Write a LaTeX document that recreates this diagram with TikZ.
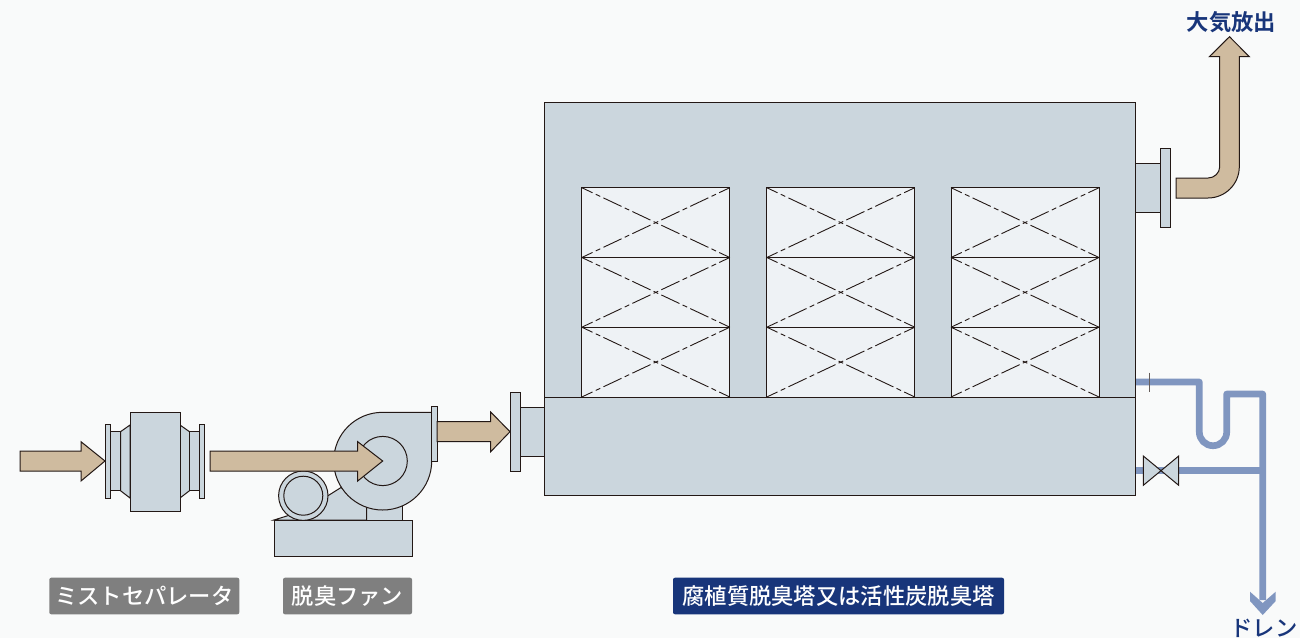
\documentclass[tikz,border=0pt]{standalone}
\usepackage{fontspec}
\setmainfont{Noto Sans CJK JP Medium}[BoldFont={Noto Sans CJK JP Bold}]
\definecolor{bgc}{HTML}{F9FAFA}
\definecolor{steel}{HTML}{CBD6DD}
\definecolor{bedc}{HTML}{EEF2F5}
\definecolor{tan}{HTML}{CFBB9F}
\definecolor{ink}{HTML}{231815}
\definecolor{pipec}{HTML}{8096C0}
\definecolor{navy}{HTML}{18357A}
\definecolor{greyl}{HTML}{7F7F7F}
\tikzset{
  part/.style={draw=ink,fill=steel,line width=1pt,line join=miter},
  flow/.style={draw=ink,fill=tan,line width=1pt,line join=miter},
  bedbox/.style={draw=ink,fill=bedc,line width=1pt},
  beddash/.style={draw=ink,line width=0.9pt,dash pattern=on 20pt off 3.5pt on 5pt off 3.5pt,dash phase=8.1pt},
  pipe/.style={draw=pipec,line width=6.7pt,line join=round},
  tag/.style={rounded corners=2pt,text=white,inner sep=0pt,minimum height=36.6pt,font=\fontsize{22.3}{26}\selectfont},
  outlabel/.style={text=navy,inner sep=0pt,font=\fontsize{22.3}{26}\selectfont}
}
\newcommand{\bedunit}[4]{%
  \draw[bedbox] (#1,#3) rectangle (#2,#4);
  \draw[beddash] (#1,#3) -- (#2,#4);
  \draw[beddash] (#1,#4) -- (#2,#3);
}
\newcommand{\bedstack}[2]{%
  \bedunit{#1}{#2}{187.7}{257.5}
  \bedunit{#1}{#2}{257.5}{327.2}
  \bedunit{#1}{#2}{327.2}{397}
}
\begin{document}
\begin{tikzpicture}[x=1pt,y=-1pt]
\useasboundingbox (0,0) rectangle (1300,638);
\fill[bgc] (0,0) rectangle (1300,638);

% pipes
\draw[pipe] (1136,382) -- (1199.3,382) -- (1199.3,432)
  .. controls (1199.3,439.6) and (1205.4,445.7) .. (1213,445.7)
  .. controls (1220.6,445.7) and (1226.7,439.6) .. (1226.7,432)
  -- (1226.7,394) -- (1262.7,394) -- (1262.7,600);
\draw[pipe] (1136,470.7) -- (1262.7,470.7);
\fill[pipec] (1250,591.7) -- (1262.7,603) -- (1275.7,591.7) -- (1275.7,601) -- (1262.7,615) -- (1250,601) -- cycle;
\draw[ink!70!white,line width=1pt] (1149,372.7) -- (1149,391.7);
\draw[part] (1143.3,456) -- (1178.7,485.3) -- (1178.7,456) -- (1143.3,485.3) -- cycle;

% tower
\draw[part] (544.9,102) rectangle (1135.9,495.5);
\draw[part] (544.9,397) -- (1135.9,397);
\bedstack{581.8}{729.8}
\bedstack{766.8}{914.8}
\bedstack{951}{1099}

% inlet and outlet nozzles
\draw[part] (520.7,407.3) rectangle (544.9,456.7);
\draw[part] (510.3,392.3) rectangle (520.7,471.3);
\draw[part] (1135.9,163.3) rectangle (1160.3,212.3);
\draw[part] (1160.3,148.3) rectangle (1170.5,227.7);

% mist separator
\draw[part] (105.3,424) rectangle (110.7,498.3);
\draw[part] (110.7,431.7) rectangle (120.5,490.7);
\draw[part] (120.5,431.7) -- (130,425) -- (130,498) -- (120.5,490.7) -- cycle;
\draw[part] (189.5,431.7) -- (180,425) -- (180,498) -- (189.5,490.7) -- cycle;
\draw[part] (189.5,431.7) rectangle (199,490.7);
\draw[part] (199,424) rectangle (204.3,498.3);
\draw[part] (130,412) rectangle (180,511);

% fan
\draw[part] (366.7,505) rectangle (402.5,520);
\draw[part] (274,520) -- (290,515) -- (328,495.7) -- (341,487.5) -- (366.7,505) -- (366.7,520) -- cycle;
\draw[part] (303.3,495.7) circle[radius=24.7pt];
\draw[part] (303.3,495.7) circle[radius=19.5pt];
\draw[part] (274,520) rectangle (412.3,556);
\draw[part] (431.7,412.3) -- (382.7,412.3)
  .. controls (355.6,412.3) and (333.7,434) .. (333.7,461)
  .. controls (333.7,488) and (355.6,510) .. (382.7,510)
  .. controls (409.8,510) and (431.7,488) .. (431.7,461) -- cycle;
\draw[part] (382.7,461) circle[radius=24.6pt];
\draw[part] (431.7,406.7) rectangle (437,461.3);

% flow arrows
\draw[flow] (20,451) -- (81,451) -- (81,441.7) -- (105,461) -- (81,481) -- (81,471) -- (20,471) -- cycle;
\draw[flow] (210,451) -- (357.7,451) -- (357.7,441.7) -- (382.7,461) -- (357.7,481) -- (357.7,471) -- (210,471) -- cycle;
\draw[flow] (437,421.7) -- (490.7,421.7) -- (490.7,412) -- (510,431.7) -- (490.7,451.7) -- (490.7,441.7) -- (437,441.7) -- cycle;
\draw[flow] (1176,178) -- (1208,178)
  .. controls (1214.4,178) and (1219.7,172.9) .. (1219.7,166.7)
  -- (1219.7,56.7) -- (1209.3,56.7) -- (1229.5,36.7) -- (1249.3,56.7) -- (1239.3,56.7) -- (1239.3,166.7)
  .. controls (1239.3,184) and (1225.3,198) .. (1208,198)
  -- (1176,198) -- cycle;

% labels
\node[tag,fill=greyl,minimum width=190pt] (sep) at (144.3,596) {ミストセパレータ};
\node[tag,fill=greyl,minimum width=129pt] (fan) at (347.5,596) {脱臭ファン};
\node[tag,fill=navy,minimum width=331pt] (tow) at (838.5,596) {腐植質脱臭塔又は活性炭脱臭塔};
\node[outlabel,font=\fontsize{22.3}{26}\selectfont\bfseries] (air) at (1231.5,22) {大気放出};
\node[outlabel] (drn) at (1264,628) {ドレン};
\end{tikzpicture}
\end{document}
